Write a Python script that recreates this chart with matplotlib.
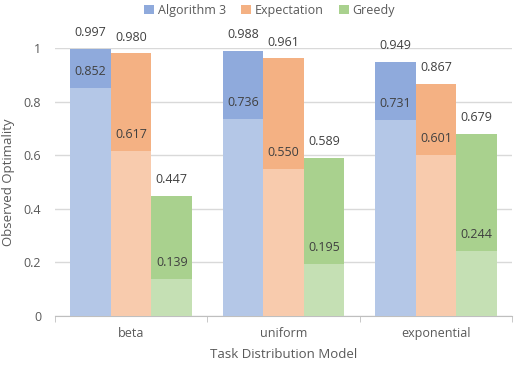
import numpy as np
import matplotlib as mpl
import matplotlib.pyplot as plt

mpl.rcParams['font.family'] = ['Open Sans', 'DejaVu Sans']

categories = ['beta', 'uniform', 'exponential']
series = ['Algorithm 3', 'Expectation', 'Greedy']
upper = {
    'Algorithm 3': [0.997, 0.988, 0.949],
    'Expectation': [0.980, 0.961, 0.867],
    'Greedy': [0.447, 0.589, 0.679],
}
lower = {
    'Algorithm 3': [0.852, 0.736, 0.731],
    'Expectation': [0.617, 0.550, 0.601],
    'Greedy': [0.139, 0.195, 0.244],
}
dark = {'Algorithm 3': '#8FAADC', 'Expectation': '#F4B183', 'Greedy': '#A9D18E'}
light = {'Algorithm 3': '#B4C7E7', 'Expectation': '#F8CBAD', 'Greedy': '#C5E0B4'}

txt = '#595959'
fig = plt.figure(figsize=(5.14, 3.66), dpi=100)
ax = fig.add_axes([55 / 514, 1 - 316 / 366, 457 / 514, 268 / 366])

x = np.arange(len(categories))
w = 0.8 / 3
for i, s in enumerate(series):
    pos = x + (i - 1) * w
    ax.bar(pos, upper[s], w, color=dark[s], label=s, zorder=2)
    ax.bar(pos, lower[s], w, color=light[s], zorder=3)
    for p, u, l in zip(pos, upper[s], lower[s]):
        ax.annotate(f'{u:.3f}', (p, u), xytext=(0, 7), textcoords='offset points',
                    ha='center', va='bottom', fontsize=9, color='#404040', zorder=5)
        ax.annotate(f'{l:.3f}', (p, l), xytext=(0, 7), textcoords='offset points',
                    ha='center', va='bottom', fontsize=9, color='#404040', zorder=5)

ax.set_xlim(-0.5, 2.5)
ax.set_ylim(0, 1)
ax.set_yticks(np.arange(0, 1.01, 0.2))
ax.set_yticklabels(['0', '0.2', '0.4', '0.6', '0.8', '1'])
ax.yaxis.grid(True, color='#D9D9D9', linewidth=1, zorder=0)
ax.set_axisbelow(True)
ax.tick_params(axis='y', length=0, colors=txt, labelsize=9, pad=10)

ax.set_xticks(x)
ax.set_xticklabels(categories)
ax.tick_params(axis='x', length=0, colors=txt, labelsize=9, pad=8)
ax.set_xticks([-0.5, 0.5, 1.5, 2.5], minor=True)
ax.tick_params(axis='x', which='minor', length=4, color='#BFBFBF')

for sp in ['top', 'right', 'left']:
    ax.spines[sp].set_visible(False)
ax.spines['bottom'].set_color('#BFBFBF')

ax.set_xlabel('Task Distribution Model', color=txt, fontsize=9.5, labelpad=6)
ax.set_ylabel('Observed Optimality', color=txt, fontsize=9.5, labelpad=6)

fig.legend(loc='upper center', bbox_to_anchor=(0.525, 1.02), ncol=3, frameon=False,
           fontsize=9, handlelength=0.8, handleheight=0.8, handletextpad=0.3,
           columnspacing=1.2, labelcolor=txt)

fig.savefig('out.png', dpi=100)
